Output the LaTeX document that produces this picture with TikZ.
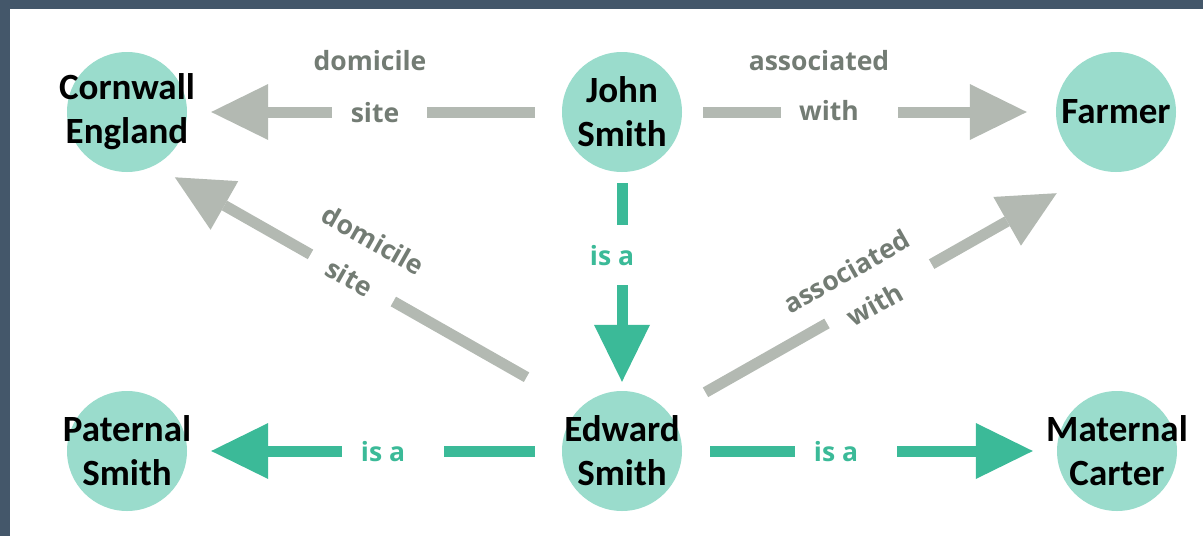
\documentclass[tikz,border=0pt]{standalone}
\usepackage{fontspec}
\usetikzlibrary{arrows.meta}
\newfontfamily\namefont{Carlito}
\newfontfamily\lblfont{Open Sans}
\definecolor{bordercol}{HTML}{44576A}
\definecolor{dotfill}{HTML}{9ADCCC}
\definecolor{edgegray}{HTML}{B3B9B2}
\definecolor{lblgray}{HTML}{737C74}
\definecolor{edgeteal}{HTML}{3BBA98}
\tikzset{
  person/.style={circle, fill=dotfill, minimum size=120pt, inner sep=0pt},
  nametext/.style={font=\namefont\bfseries\fontsize{37}{44}\selectfont, align=center},
  link/.style={line width=11pt, -{Triangle[length=57pt, width=56pt, line width=0pt]}},
  graylink/.style={link, draw=edgegray},
  teallink/.style={link, draw=edgeteal},
  gapbox/.style={fill=white, inner sep=0pt, minimum height=14pt, sloped},
  lbl/.style={font=\lblfont\bfseries\fontsize{26.5}{30}\selectfont, inner sep=0pt},
  graylbl/.style={lbl, text=lblgray},
  teallbl/.style={lbl, text=edgeteal},
}
\begin{document}
\begin{tikzpicture}[x=1pt, y=-1pt]
  \useasboundingbox (0,0) rectangle (1203,536);

  % Frame
  \fill[bordercol] (0,0) rectangle (1203,9);
  \fill[bordercol] (0,0) rectangle (10,536);

  % People and places
  \node[person] (john) at (622,112) {};
  \node[person] (cornwall) at (127,112) {};
  \node[person] (farmer) at (1116,112) {};
  \node[person] (paternal) at (127,451) {};
  \node[person] (edward) at (622,451) {};
  \node[person] (maternal) at (1117,451) {};

  \node[nametext] at (john) {John\\Smith};
  \node[nametext] at (cornwall) {Cornwall\\England};
  \node[nametext] at (farmer) {Farmer};
  \node[nametext] at (paternal) {Paternal\\Smith};
  \node[nametext] at (edward) {Edward\\Smith};
  \node[nametext] at (maternal) {Maternal\\Carter};

  % Links
  \draw[graylink, shorten <=27pt, shorten >=24pt] (john.west) -- node[gapbox, pos=.487, minimum width=95pt] {} (cornwall.east);
  \draw[graylink, shorten <=21pt, shorten >=29pt] (john.east) -- node[gapbox, pos=.421, minimum width=117pt] {} (farmer.west);
  \draw[teallink, shorten <=11pt, shorten >=9pt] (john.south) -- node[gapbox, pos=.379, minimum width=60pt] {} (edward.north);
  \draw[teallink, shorten <=27pt, shorten >=24pt] (edward.west) -- node[gapbox, pos=.451, minimum width=102pt] {} (paternal.east);
  \draw[teallink, shorten <=28pt, shorten >=24pt] (edward.east) -- node[gapbox, pos=.437, minimum width=102pt] {} (maternal.west);
  \draw[graylink, shorten <=61.7pt, shorten >=23.6pt] (edward.134) -- node[gapbox, pos=.536, minimum width=95pt] {} (cornwall.-63);
  \draw[graylink, shorten <=42.2pt, shorten >=47.9pt] (edward.39.5) -- node[gapbox, pos=.49, minimum width=120pt] {} (farmer.-107);

  % Link labels
  \node[graylbl] at (370,61) {domicile};
  \node[graylbl] at (375,112.5) {site};
  \node[graylbl] at (819,61) {associated};
  \node[graylbl] at (829,111) {with};
  \node[teallbl] at (612,256) {is a};
  \node[teallbl] at (383,452) {is a};
  \node[teallbl] at (836,452) {is a};
  \node[graylbl, rotate=-29.6] at (373.5,240) {domicile};
  \node[graylbl, rotate=-29.6] at (349.5,277.5) {site};
  \node[graylbl, rotate=29.5] at (846.5,271.5) {associated};
  \node[graylbl, rotate=29.5] at (875,304.5) {with};
\end{tikzpicture}
\end{document}
